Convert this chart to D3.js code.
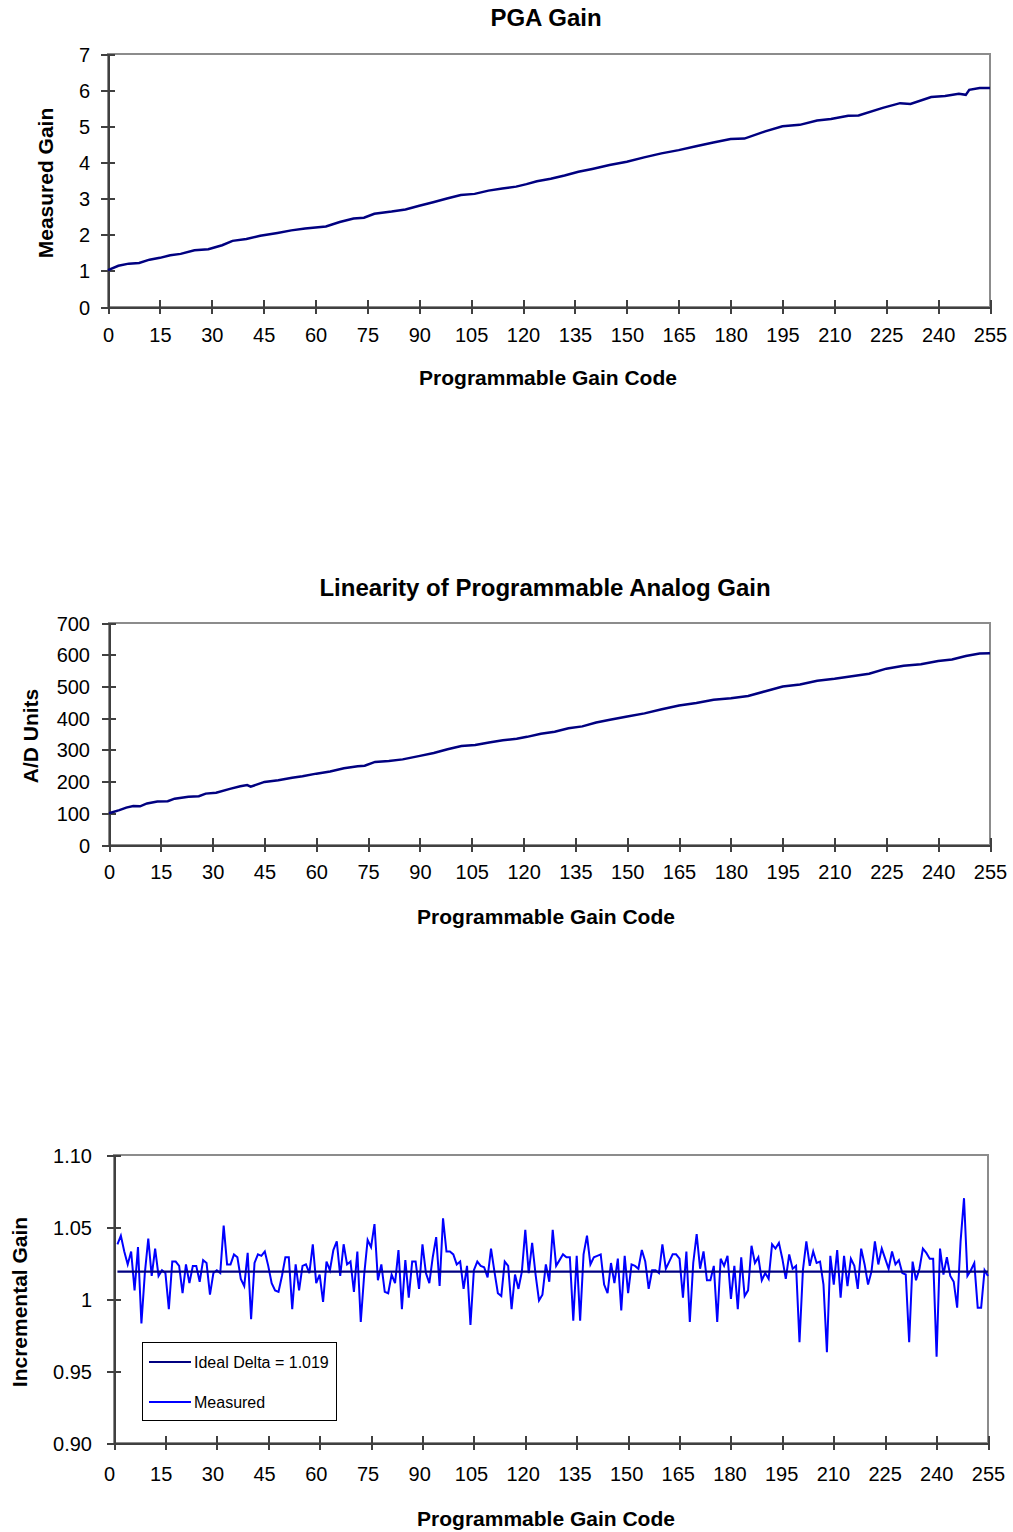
<!DOCTYPE html>
<html>
<head>
<meta charset="utf-8">
<script src="https://cdn.jsdelivr.net/npm/d3@7"></script>
<style>
  body { margin: 0; background: #ffffff; }
  svg { display: block; font-family: 'Liberation Sans', Arial, sans-serif; }
  .axis path, .axis line { stroke: #404040; stroke-width: 2px; shape-rendering: crispEdges; }
  .axis text { font-size: 20px; fill: #000; }
  .frame { fill: none; stroke: #8c8c8c; stroke-width: 2px; shape-rendering: crispEdges; }
  .chart-title { font-size: 24px; font-weight: bold; text-anchor: middle; }
  .axis-title { font-size: 21px; font-weight: bold; text-anchor: middle; dominant-baseline: central; }
  .gain-line { fill: none; stroke: #000080; stroke-width: 2.5px; }
  .measured-line { fill: none; stroke: #0000ff; stroke-width: 2px; }
  .ideal-line { fill: none; stroke: #000080; stroke-width: 2.2px; }
  .legend-box { fill: #fff; stroke: #000; stroke-width: 1px; shape-rendering: crispEdges; }
  .legend text { font-size: 16px; dominant-baseline: central; }
</style>
</head>
<body>
<svg id="chart" width="1013" height="1532"></svg>
<script>
// x ticks shared by all three panels
const codeTicks = [0, 15, 30, 45, 60, 75, 90, 105, 120, 135, 150, 165, 180, 195, 210, 225, 240, 255];

// PGA Gain
const gainCodes = [0, 3, 6, 9, 12, 15, 18, 21, 25, 29, 33, 36, 40, 44, 49, 53, 57, 60, 63, 67,
  71, 74, 77, 82, 86, 90, 94, 98, 102, 106, 110, 114, 118, 121, 124, 128, 132, 136, 140, 145,
  150, 155, 160, 165, 170, 175, 180, 184, 190, 195, 200, 205, 209, 214, 217, 224, 229, 232, 238, 242,
  246, 248, 249, 252, 255];
const gainValues = [1.02, 1.14, 1.20, 1.22, 1.31, 1.36, 1.43, 1.47, 1.57, 1.60, 1.71, 1.83, 1.88, 1.97, 2.05, 2.12, 2.17, 2.20, 2.23, 2.35,
  2.45, 2.47, 2.58, 2.64, 2.70, 2.80, 2.90, 3.00, 3.10, 3.13, 3.22, 3.28, 3.33, 3.40, 3.48, 3.55, 3.64, 3.74, 3.82, 3.93,
  4.02, 4.14, 4.25, 4.34, 4.45, 4.55, 4.65, 4.66, 4.86, 5.00, 5.04, 5.16, 5.20, 5.29, 5.30, 5.51, 5.64, 5.62, 5.81, 5.84,
  5.90, 5.87, 6.01, 6.06, 6.06];
const gainTicks = [0, 1, 2, 3, 4, 5, 6, 7];

// Linearity, A/D units
const adCodes = [0, 3, 5, 7, 9, 11, 14, 17, 19, 23, 26, 28, 31, 35, 38, 40, 41, 45, 49, 53,
  56, 60, 64, 68, 72, 74, 77, 81, 85, 90, 94, 98, 102, 106, 110, 114, 118, 121, 125, 129,
  133, 137, 141, 145, 150, 155, 160, 165, 170, 175, 180, 185, 190, 195, 200, 205, 210, 215, 220, 225,
  230, 235, 240, 244, 248, 252, 255];
const adValues = [100, 110, 118, 123, 122, 131, 137, 138, 146, 152, 154, 162, 165, 177, 185, 189, 184, 199, 204, 212,
  217, 225, 232, 242, 248, 250, 262, 265, 270, 281, 290, 302, 312, 315, 323, 330, 335, 341, 351, 357,
  368, 374, 386, 395, 405, 415, 428, 440, 448, 458, 463, 470, 485, 500, 506, 518, 524, 532, 540, 556,
  565, 570, 580, 585, 596, 604, 605];
const adTicks = [0, 100, 200, 300, 400, 500, 600, 700];

// Incremental gain, codes 1..255
const incrementalGain = [
  1.038, 1.044, 1.033, 1.024, 1.033, 1.006, 1.036, 0.983, 1.018, 1.042, 1.016, 1.035, 1.016, 1.020, 1.018,
  0.993, 1.026, 1.026, 1.023, 1.004, 1.024, 1.011, 1.023, 1.023, 1.012, 1.027, 1.025, 1.003, 1.018, 1.020,
  1.018, 1.051, 1.024, 1.024, 1.031, 1.029, 1.014, 1.009, 1.032, 0.986, 1.025, 1.031, 1.030, 1.033, 1.023,
  1.011, 1.006, 1.005, 1.016, 1.029, 1.029, 0.993, 1.024, 1.006, 1.023, 1.024, 1.018, 1.038, 1.011, 1.017,
  0.998, 1.026, 1.020, 1.034, 1.040, 1.016, 1.038, 1.024, 1.026, 1.005, 1.033, 0.984, 1.017, 1.041, 1.036,
  1.052, 1.013, 1.024, 1.005, 1.004, 1.017, 1.011, 1.034, 0.993, 1.027, 1.001, 1.026, 1.026, 1.007, 1.038,
  1.018, 1.011, 1.029, 1.043, 1.009, 1.056, 1.033, 1.033, 1.031, 1.024, 1.026, 1.007, 1.023, 0.982, 1.020,
  1.026, 1.023, 1.022, 1.015, 1.035, 1.019, 1.004, 1.002, 1.026, 1.023, 0.993, 1.017, 1.007, 1.019, 1.048,
  1.018, 1.039, 1.017, 0.999, 1.003, 1.024, 1.012, 1.048, 1.023, 1.027, 1.031, 1.029, 1.029, 0.985, 1.030,
  0.985, 1.031, 1.044, 1.024, 1.029, 1.030, 1.031, 1.010, 1.004, 1.025, 1.011, 1.028, 0.992, 1.030, 1.004,
  1.024, 1.023, 1.021, 1.034, 1.026, 1.007, 1.020, 1.020, 1.018, 1.038, 1.021, 1.026, 1.031, 1.031, 1.028,
  1.001, 1.033, 0.984, 1.025, 1.045, 1.021, 1.033, 1.013, 1.013, 1.023, 0.984, 1.028, 1.023, 1.030, 1.000,
  1.023, 0.993, 1.029, 1.002, 1.006, 1.037, 1.025, 1.029, 1.013, 1.018, 1.014, 1.038, 1.035, 1.039, 1.028,
  1.014, 1.031, 1.021, 1.023, 0.970, 1.020, 1.040, 1.023, 1.033, 1.025, 1.026, 1.010, 0.963, 1.030, 1.010,
  1.034, 1.001, 1.030, 1.009, 1.028, 1.023, 1.007, 1.035, 1.024, 1.010, 1.019, 1.040, 1.024, 1.035, 1.028,
  1.021, 1.033, 1.024, 1.027, 1.018, 1.017, 0.970, 1.026, 1.013, 1.021, 1.035, 1.032, 1.028, 1.028, 0.960,
  1.035, 1.017, 1.029, 1.016, 1.012, 0.994, 1.040, 1.070, 1.016, 1.020, 1.025, 0.994, 0.994, 1.020, 1.016
];
const idealDelta = 1.019;
const incTicks = [0.90, 0.95, 1, 1.05, 1.10];
const incTickLabels = ['0.90', '0.95', '1', '1.05', '1.10'];
const legendLabels = ['Ideal Delta = 1.019', 'Measured'];

const svg = d3.select('#chart');

function drawPanel(p) {
  const g = svg.append('g');
  const x = d3.scaleLinear().domain([0, 255]).range([p.left, p.right]);
  const y = d3.scaleLinear().domain([p.yTicks[0], p.yTicks[p.yTicks.length - 1]]).range([p.bottom, p.top]);
  // the bottom panel's labels sit a little off its ticks
  const xLabel = p.labelRange ? d3.scaleLinear().domain([0, 255]).range(p.labelRange) : x;

  g.append('rect')
    .attr('class', 'frame')
    .attr('x', p.left)
    .attr('y', p.top)
    .attr('width', p.right - p.left)
    .attr('height', p.bottom - p.top);

  const yAxis = g.append('g')
    .attr('class', 'axis')
    .attr('transform', 'translate(' + p.left + ',0)')
    .call(d3.axisLeft(y).tickValues(p.yTicks).tickSize(7).tickSizeOuter(0)
      .tickFormat((d, i) => p.yLabels ? p.yLabels[i] : d));
  yAxis.selectAll('.tick line').attr('x1', 7);
  yAxis.selectAll('.tick text').attr('x', -p.yLabelGap).attr('dy', '0.35em');

  const xAxis = g.append('g')
    .attr('class', 'axis')
    .attr('transform', 'translate(0,' + p.bottom + ')')
    .call(d3.axisBottom(x).tickValues(codeTicks).tickSize(7).tickSizeOuter(0));
  xAxis.selectAll('.tick line').attr('y1', -7);
  xAxis.selectAll('.tick text')
    .attr('y', p.xLabelGap)
    .attr('dy', '0.35em')
    .attr('x', d => xLabel(d) - x(d));

  if (p.title) {
    g.append('text').attr('class', 'chart-title')
      .attr('x', p.titleX).attr('y', p.titleY).text(p.title);
  }
  g.append('text').attr('class', 'axis-title')
    .attr('transform', 'translate(' + p.yTitleX + ',' + p.yTitleY + ') rotate(-90)')
    .text(p.yTitle);
  g.append('text').attr('class', 'axis-title')
    .attr('x', p.xTitleX).attr('y', p.xTitleY)
    .text('Programmable Gain Code');

  return { g: g, x: x, y: y };
}

// top panel
const p1 = drawPanel({
  left: 108, right: 990, top: 54, bottom: 307,
  yTicks: gainTicks, yLabelGap: 18, xLabelGap: 28,
  title: 'PGA Gain', titleX: 546, titleY: 26,
  yTitle: 'Measured Gain', yTitleX: 45, yTitleY: 183,
  xTitleX: 548, xTitleY: 377
});
p1.g.append('path')
  .datum(gainCodes.map((c, i) => [c, gainValues[i]]))
  .attr('class', 'gain-line')
  .attr('d', d3.line().x(d => p1.x(d[0])).y(d => p1.y(d[1])));

// middle panel
const p2 = drawPanel({
  left: 109, right: 990, top: 623, bottom: 845,
  yTicks: adTicks, yLabelGap: 19, xLabelGap: 27,
  title: 'Linearity of Programmable Analog Gain', titleX: 545, titleY: 596,
  yTitle: 'A/D Units', yTitleX: 30, yTitleY: 736,
  xTitleX: 546, xTitleY: 916
});
p2.g.append('path')
  .datum(adCodes.map((c, i) => [c, adValues[i]]))
  .attr('class', 'gain-line')
  .attr('d', d3.line().x(d => p2.x(d[0])).y(d => p2.y(d[1])));

// bottom panel
const p3 = drawPanel({
  left: 114, right: 988, top: 1155, bottom: 1443,
  labelRange: [109, 988],
  yTicks: incTicks, yLabels: incTickLabels, yLabelGap: 22, xLabelGap: 31,
  yTitle: 'Incremental Gain', yTitleX: 19, yTitleY: 1302,
  xTitleX: 546, xTitleY: 1518
});
p3.g.append('path')
  .datum(incrementalGain.map((v, i) => [i + 1, v]))
  .attr('class', 'measured-line')
  .attr('d', d3.line().x(d => p3.x(d[0])).y(d => p3.y(d[1])));
p3.g.append('path')
  .datum([[1, idealDelta], [255, idealDelta]])
  .attr('class', 'ideal-line')
  .attr('d', d3.line().x(d => p3.x(d[0])).y(d => p3.y(d[1])));

// legend
const legend = p3.g.append('g').attr('class', 'legend');
legend.append('rect').attr('class', 'legend-box')
  .attr('x', 142).attr('y', 1342).attr('width', 194).attr('height', 78);
const legendItems = legend.selectAll('g.item')
  .data(legendLabels)
  .enter()
  .append('g')
  .attr('class', 'item')
  .attr('transform', (d, i) => 'translate(149,' + (1362 + i * 40) + ')');
legendItems.append('line')
  .attr('x1', 0).attr('x2', 42).attr('y1', 0).attr('y2', 0)
  .attr('stroke', (d, i) => i === 0 ? '#000080' : '#0000ff')
  .attr('stroke-width', 2);
legendItems.append('text')
  .attr('x', 45).attr('y', 0)
  .text(d => d);
</script>
</body>
</html>
